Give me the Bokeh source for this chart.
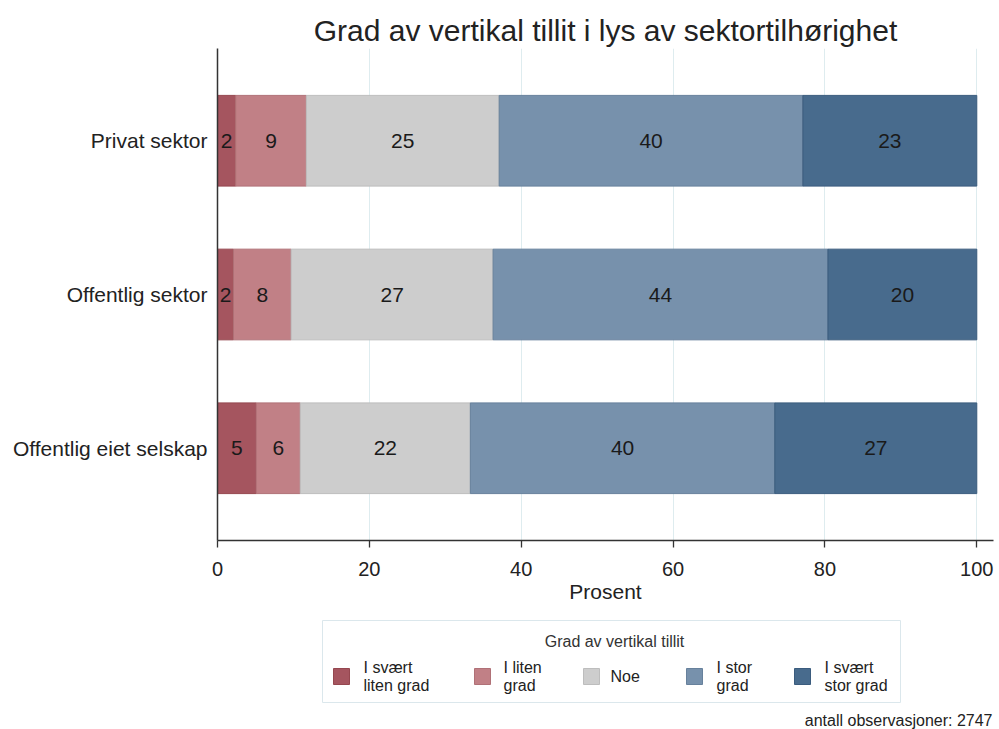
from bokeh.plotting import figure
from bokeh.models import Range1d, FixedTicker, ColumnDataSource
from bokeh.layouts import column
from bokeh.embed import file_html
from bokeh.resources import INLINE
from bokeh.core.properties import value

# ---- data ----
categories = ["Privat sektor", "Offentlig sektor", "Offentlig eiet selskap"]
svaert_liten = [2.4, 2.1, 5.1]
liten = [9.3, 7.6, 5.8]
noe = [25.4, 26.6, 22.4]
stor = [40.0, 44.1, 40.1]
svaert_stor = [22.9, 19.6, 26.6]
series_labels = ["I svært\nliten grad", "I liten\ngrad", "Noe", "I stor\ngrad", "I svært\nstor grad"]
x_ticks = [0, 20, 40, 60, 80, 100]
n_obs = 2747

FONT = "Liberation Sans"
fills = ["#a5555f", "#c18086", "#cdcdcd", "#7791ac", "#486b8d"]
lines = ["#95474f", "#b07177", "#bdbdbd", "#67819c", "#3b5c7e"]

series = [svaert_liten, liten, noe, stor, svaert_stor]
ypos = [len(categories) - i for i in range(len(categories))]

W, H1, H2 = 999, 605, 124
BL, BR = 217, 6

p = figure(width=W, height=H1, output_backend="svg", toolbar_location=None,
           x_range=Range1d(0, 102.2), y_range=Range1d(0.4, 3.6),
           title="Grad av vertikal tillit i lys av sektortilhørighet",
           min_border_left=BL, min_border_right=BR, min_border_top=48, min_border_bottom=H1 - 545)
p.outline_line_color = None
p.background_fill_color = "white"
p.border_fill_color = "white"
p.title.text_font = FONT
p.title.text_font_size = "30px"
p.title.text_font_style = "normal"
p.title.text_color = "#222222"
p.title.align = "center"
p.title.offset = 12
p.title.standoff = 4

left = [0.0] * len(categories)
for k, vals in enumerate(series):
    right = [l + v for l, v in zip(left, vals)]
    src = ColumnDataSource(dict(y=ypos, left=left, right=right,
                                mid=[(a + b) / 2 for a, b in zip(left, right)],
                                lab=[f"{v:.0f}" for v in vals]))
    p.hbar(y="y", left="left", right="right", height=0.59, source=src,
           fill_color=fills[k], line_color=lines[k], line_width=1)
    p.text(x="mid", y="y", text="lab", source=src, text_align="center",
           text_baseline="middle", text_font=value(FONT), text_font_size="21px",
           text_color="#1a1a1a")
    left = right

# axes
xa = p.xaxis[0]
xa.ticker = FixedTicker(ticks=x_ticks)
xa.minor_tick_line_color = None
xa.major_tick_out = 7
xa.major_tick_in = 0
xa.axis_line_color = "#333333"
xa.axis_line_width = 1.3
xa.major_tick_line_color = "#333333"
xa.major_tick_line_width = 1.3
xa.major_label_text_font = FONT
xa.major_label_text_font_size = "20px"
xa.major_label_text_color = "#222222"
xa.major_label_standoff = 14
xa.axis_label = "Prosent"
xa.axis_label_text_font = FONT
xa.axis_label_text_font_size = "21px"
xa.axis_label_text_font_style = "normal"
xa.axis_label_text_color = "#222222"
xa.axis_label_standoff = 1

ya = p.yaxis[0]
ya.ticker = FixedTicker(ticks=ypos)
ya.major_label_overrides = {y: c for y, c in zip(ypos, categories)}
ya.minor_tick_line_color = None
ya.major_tick_out = 0
ya.major_tick_in = 0
ya.axis_line_color = "#333333"
ya.axis_line_width = 1.5
ya.major_label_text_font = FONT
ya.major_label_text_font_size = "21px"
ya.major_label_text_color = "#222222"
ya.major_label_standoff = 10

p.xgrid.ticker = FixedTicker(ticks=x_ticks[1:])
p.xgrid.grid_line_color = "#deecef"
p.xgrid.grid_line_width = 1
p.ygrid.grid_line_color = None

# ---- legend / footer figure (data units = page pixels) ----
p2 = figure(width=W, height=H2, output_backend="svg", toolbar_location=None,
            x_range=Range1d(BL, W - BR), y_range=Range1d(H1 + H2, H1),
            x_axis_type=None, y_axis_type=None,
            min_border_left=BL, min_border_right=BR, min_border_top=0, min_border_bottom=0)
p2.outline_line_color = None
p2.xgrid.visible = False
p2.ygrid.visible = False

p2.quad(left=[322], right=[900], top=[620], bottom=[702], fill_color="white",
        line_color="#dbe7ec", line_width=1)
p2.text(x=[614], y=[641], text=["Grad av vertikal tillit"], text_align="center",
        text_baseline="middle", text_font=value(FONT), text_font_size="16px",
        text_color="#333333")

sq_x = [341, 482, 591, 694, 802]
tx_x = [363, 503, 610, 716, 824]
p2.rect(x=sq_x, y=[676] * 5, width=16, height=16, fill_color=fills, line_color=lines)
l1x, l1y, l1t = [], [], []
for i, lab in enumerate(series_labels):
    parts = lab.split("\n")
    if len(parts) == 1:
        l1x.append(tx_x[i]); l1y.append(676); l1t.append(parts[0])
    else:
        l1x += [tx_x[i], tx_x[i]]; l1y += [667, 685]; l1t += parts
p2.text(x=l1x, y=l1y, text=l1t, text_align="left", text_baseline="middle",
        text_font=value(FONT), text_font_size="16px", text_color="#222222")

p2.text(x=[992], y=[720], text=[f"antall observasjoner: {n_obs}"], text_align="right",
        text_baseline="middle", text_font=value(FONT), text_font_size="16px",
        text_color="#222222")

layout = column(p, p2, spacing=0)
open("out.html", "w").write(file_html(layout, INLINE))
